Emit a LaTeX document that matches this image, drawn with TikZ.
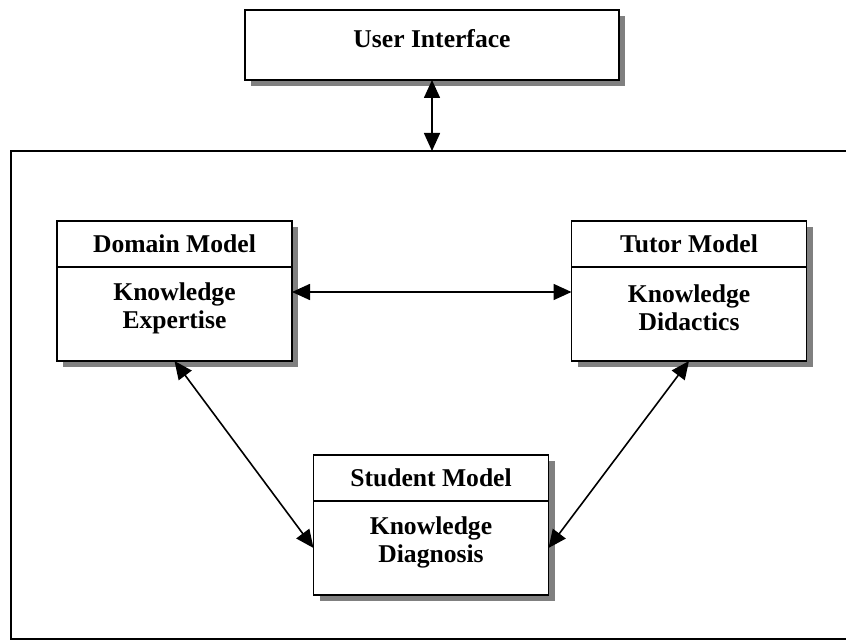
\documentclass[tikz,border=0pt]{standalone}
\usepackage{fontspec}
\setmainfont{Liberation Serif}
\usetikzlibrary{arrows.meta,shadows,positioning}

\begin{document}
\begin{tikzpicture}[x=0.5pt,y=-0.5pt,
	font=\fontsize{12.8}{14}\selectfont\bfseries,
	box/.style={draw,line width=0.9pt,fill=white,inner sep=0pt,outer sep=0pt,
		drop shadow={shadow xshift=3pt,shadow yshift=-3pt,fill=black!50,opacity=1}},
	headbox/.style={box,minimum width=117.5pt,minimum height=23pt},
	bodybox/.style={box,minimum width=117.5pt,minimum height=47pt},
	boxtext/.style={align=center,inner sep=0pt,yshift=3pt},
	link/.style={line width=0.8pt,{Triangle[length=9pt,width=8pt]}-{Triangle[length=9pt,width=8pt]}}]
\useasboundingbox (0,0) rectangle (846,641);
		\coordinate (U) at (432,45);
		\coordinate (T) at (432,151);
		\coordinate (D) at (174.5,244);
		\coordinate (R) at (689,244);
		\coordinate (S) at (431,478);
		% system frame
		\draw[line width=1pt] (11,151) rectangle (852,639);
		% user interface
		\node[box,minimum width=187pt,minimum height=35pt] (ui) at (U) {};
		\node[boxtext] (uitext) at (ui) {User Interface};
		% domain model
		\node[headbox] (domhead) at (D) {Domain Model};
		\node[bodybox,below=0pt of domhead] (dombody) {};
		\node[boxtext] (domtext) at (dombody) {Knowledge\\Expertise};
		% tutor model
		\node[headbox] (tuthead) at (R) {Tutor Model};
		\node[bodybox,below=0pt of tuthead] (tutbody) {};
		\node[boxtext] (tuttext) at (tutbody) {Knowledge\\Didactics};
		% student model
		\node[headbox] (stuhead) at (S) {Student Model};
		\node[bodybox,below=0pt of stuhead] (stubody) {};
		\node[boxtext] (stutext) at (stubody) {Knowledge\\Diagnosis};
		% links
		\draw[link] (ui.south) -- (T);
		\draw[link] ([yshift=11pt]dombody.east) -- ([yshift=11pt]tutbody.west);
		\draw[link] (dombody.south) -- (stubody.west);
		\draw[link] (tutbody.south) -- (stubody.east);
		%\draw[link] (domhead) -- (tuthead);
\end{tikzpicture}
\end{document}
